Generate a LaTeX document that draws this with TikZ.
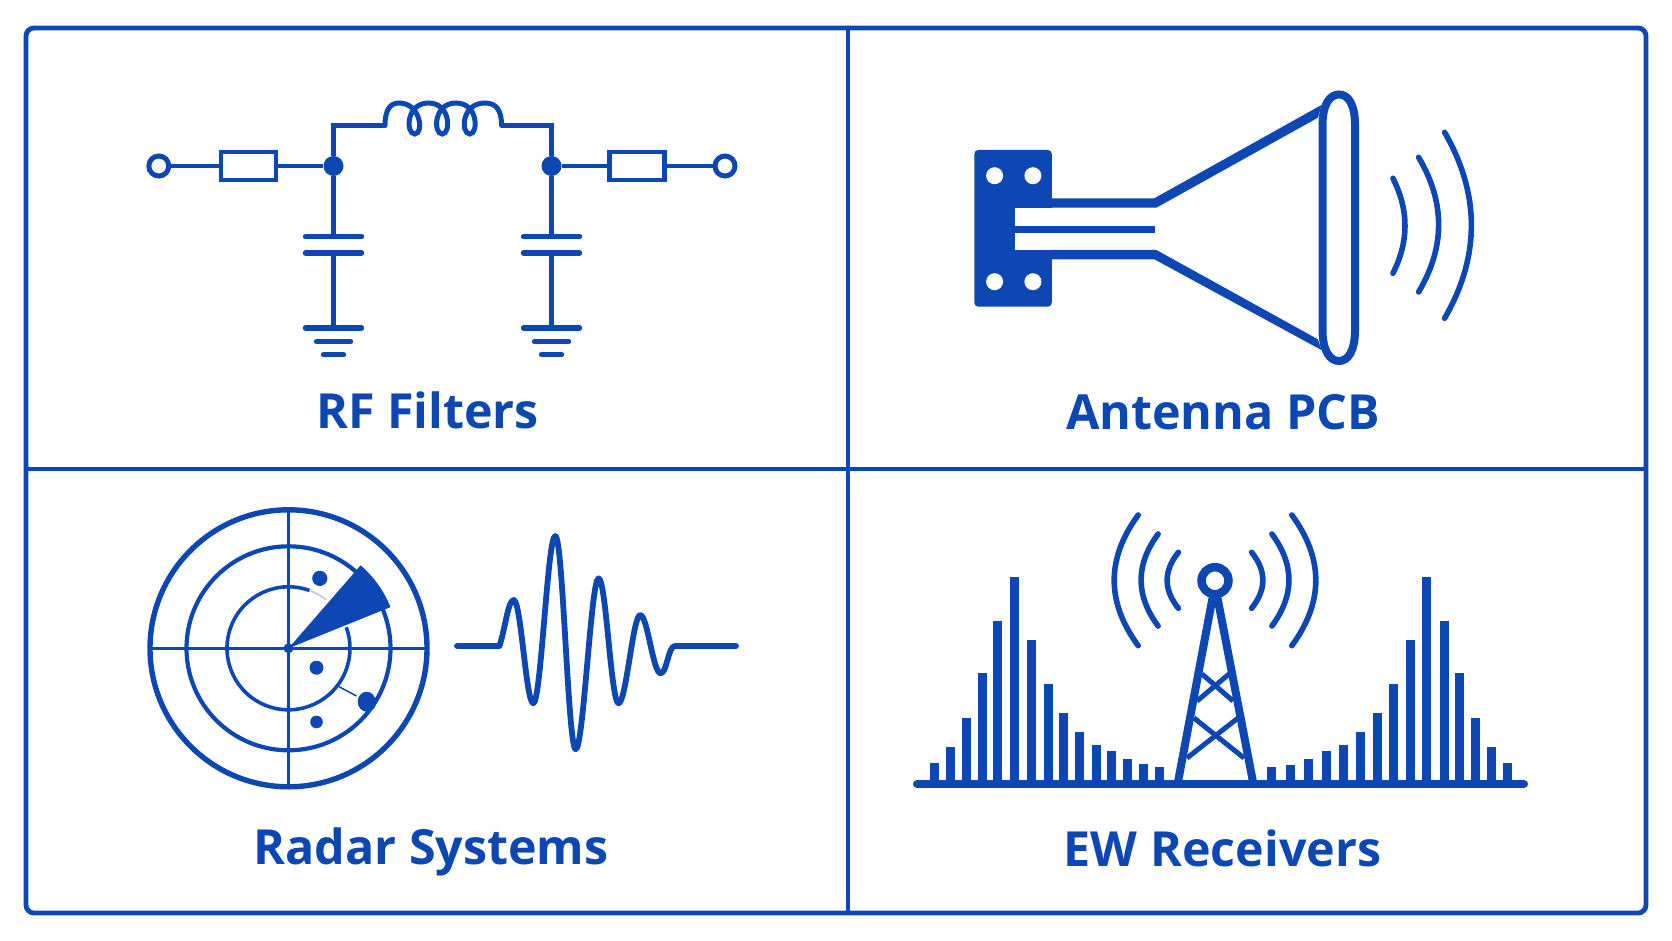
\documentclass[tikz,border=0pt]{standalone}
\usepackage{fontspec}
\setmainfont{Open Sans}
\definecolor{rfblue}{HTML}{0D47B4}
\tikzset{
  title/.style={anchor=base, text=rfblue, font=\fontsize{48.4}{50}\selectfont\bfseries},
  wire/.style={draw=rfblue, line width=4.8pt},
  plate/.style={draw=rfblue, line width=5.4pt, line cap=round},
  arcwave/.style={draw=rfblue, line width=5.6pt, line cap=round},
  terminal/.style={circle, draw=rfblue, line width=5pt, fill=white, minimum size=20pt, inner sep=0pt},
  resistor/.style={rectangle, draw=rfblue, line width=4.8pt, minimum width=55pt, minimum height=28pt, inner sep=0pt},
  junction/.style={circle, fill=rfblue, minimum size=20pt, inner sep=0pt},
}
\begin{document}
\begin{tikzpicture}[x=1pt, y=-1pt]
    \useasboundingbox (0,0) rectangle (1672,941);
    \fill[white] (0,0) rectangle (1672,941);

    % frame
    \draw[draw=rfblue, line width=4.8pt, rounded corners=8pt] (26,28) rectangle (1646,913);
    \draw[draw=rfblue, line width=4.8pt] (848,28) -- (848,913);
    \draw[draw=rfblue, line width=4.8pt] (26,469) -- (1646,469);

    % rf filter
    \begin{scope}
      \node [terminal] (t1) at (158.8,166) {};
      \node [resistor] (r1) at (248.5,166) {};
      \node [junction] (j1) at (333.5,166) {};
      \node [junction] (j2) at (551.5,166) {};
      \node [resistor] (r2) at (637,166) {};
      \node [terminal] (t2) at (725,166) {};
      \coordinate (la) at (385,125.5);
      \coordinate (lb) at (501.6,125.5);
      \draw[wire] (t1) -- (r1);
      \draw[wire] (r1) -- (j1);
      \draw[wire] (j2) -- (r2);
      \draw[wire] (r2) -- (t2);
      \draw[wire] (j1) |- (la);
      \draw[wire] (lb) -| (j2);
      \draw[wire, line cap=round, line width=5pt] (la) .. controls (385,110) and (390,103) .. (399,103)
        .. controls (421,103) and (424,134) .. (414.7,134)
        .. controls (405.7,134) and (405.7,103) .. (428.5,103)
        .. controls (451,103) and (451,134) .. (442.2,134)
        .. controls (433.2,134) and (433.2,103) .. (456,103)
        .. controls (478.5,103) and (478.5,134) .. (469.8,134)
        .. controls (460.8,134) and (460.8,103) .. (485,103)
        .. controls (496,103) and (501.6,110) .. (lb);
      \foreach \x/\n in {333.5/1, 551.5/2} {
        \coordinate (c\n t) at (\x,236.7);
        \coordinate (c\n b) at (\x,253);
        \coordinate (g\n) at (\x,328);
        \draw[wire] (j\n) -- (c\n t);
        \draw[wire] (c\n b) -- (g\n);
        \draw[plate] (\x-28,236.7) -- (\x+28,236.7);
        \draw[plate] (\x-28,253) -- (\x+28,253);
        \draw[plate] (\x-28,328) -- (\x+28,328);
        \draw[plate] (\x-17,341.7) -- (\x+17,341.7);
        \draw[plate] (\x-10,354.7) -- (\x+10,354.7);
      }
      \node [title] (rftitle) at (427.5,428) {RF Filters};
    \end{scope}

    % horn antenna
    \begin{scope}
      \fill[rfblue, rounded corners=4pt] (974.3,150) rectangle (1051.8,306.7);
      \foreach \x in {994.6,1032.9} {
        \foreach \y in {175.7,281.7} {
          \fill[white] (\x,\y) circle (8.5pt);
        }
      }
      \fill[white] (1015.4,207.7) rectangle (1052,250);
      \fill[rfblue] (1015,226) rectangle (1155,232.7);
      \fill[rfblue] (1050,198.3) -- (1154.3,198.3) -- (1321.4,105) -- (1317.9,117.7)
        -- (1156.4,207.7) -- (1050,207.7) -- cycle;
      \fill[rfblue] (1050,250) -- (1156.4,250) -- (1317.9,339.3) -- (1321.4,350)
        -- (1154.3,259.3) -- (1050,259.3) -- cycle;
      \draw[draw=rfblue, line width=8pt] (1322.5,125) .. controls (1322.5,104) and (1330,94.5) .. (1339,94.5)
        .. controls (1348,94.5) and (1355,104) .. (1355,125) -- (1355,330)
        .. controls (1355,351) and (1348,361) .. (1339,361)
        .. controls (1330,361) and (1322.5,351) .. (1322.5,330) -- cycle;
      \foreach \xa/\xc/\ya/\ca/\cb/\yb in {1392.9/1409/178.3/210/241.6/273.3,
          1418.6/1445.3/157.3/202.2/247.1/292, 1444.6/1480.3/132.3/194.3/256.3/318.3} {
        \draw[arcwave] (\xa,\ya) .. controls (\xc,\ca) and (\xc,\cb) .. (\xa,\yb);
      }
      \node [title] (horntitle) at (1223,429.3) {Antenna PCB};
    \end{scope}

    % radar
    \begin{scope}[shift={(288.5,648.3)}, y=1pt]
      \draw[draw=rfblue, line width=5.4pt] (0,0) circle (138.5pt);
      \draw[draw=rfblue, line width=4.2pt] (0,0) circle (102pt);
      \draw[draw=rfblue, line width=3.6pt] (70:61.5) arc[start angle=70, end angle=380, radius=61.5pt];
      \draw[draw=rfblue!30, line width=1.5pt] (70:61.5) arc[start angle=70, end angle=52, radius=61.5pt];
      \draw[draw=rfblue, line width=3pt] (-138,0) -- (138,0);
      \draw[draw=rfblue, line width=3pt] (0,-138) -- (0,138);
      \fill[rfblue] (0,0) -- (22:110) arc[start angle=22, end angle=49, radius=110pt] -- cycle;
      \fill[rfblue] (0,0) circle (5pt);
      \fill[rfblue] (31.3,69.9) circle (7.6pt);
      \fill[rfblue] (28,-19.4) circle (7pt);
      \fill[rfblue] (28,-73.7) circle (6.3pt);
      \fill[rfblue] (78.2,-53.4) ellipse (9pt and 10pt);
      \fill[rfblue] (83,-57) circle (4pt);
      \draw[draw=rfblue, line width=1.5pt] (50.5,-38.4) -- (68,-47.7);
    \end{scope}
    \draw[draw=rfblue, line width=5.8pt, line cap=round, line join=round] (457,646) -- (499.4,646)
      .. controls (505,630) and (508,600) .. (513.7,600)
      .. controls (521,600) and (526,703.3) .. (533.3,703.3)
      .. controls (541,703.3) and (547.5,536) .. (555.3,536)
      .. controls (563,536) and (568,749.3) .. (575.7,749.3)
      .. controls (583.5,749.3) and (591,578.3) .. (598.6,578.3)
      .. controls (606,578.3) and (611,703.3) .. (618.6,703.3)
      .. controls (626,703.3) and (633,615) .. (640.2,615)
      .. controls (647.5,615) and (653,673.3) .. (660.6,673.3)
      .. controls (667,673.3) and (668,646) .. (675,646) -- (736,646);
    \node [title] (radartitle) at (431,864) {Radar Systems};

    % receiver spectrum and tower
    \begin{scope}
      \foreach \x/\y in {934/762.7, 950.2/747.3, 966.3/717.7, 982.1/672.7, 997.8/620.7,
          1014.8/577.3, 1031.8/640, 1048/684, 1063.8/712.7, 1079.9/732, 1096/744.7,
          1111.4/751.3, 1127.2/758.7, 1143/764, 1159.5/766.7,
          1271.9/766.7, 1290.5/764.7, 1308/758.7, 1326.2/751.3, 1343.6/745.3, 1360.2/732,
          1377.2/712.7, 1393.8/684, 1410/640, 1426.5/577.3, 1444/620.7, 1459.7/672.7,
          1475.4/717.7, 1491.2/747.3, 1507/762.7} {
        \draw[draw=rfblue, line width=9pt] (\x,\y) -- (\x,784);
      }
      \draw[draw=rfblue, line width=8pt, line cap=round] (917,784) -- (1524,784);
      \draw[draw=rfblue, line width=8pt] (1178,782) -- (1212.5,598);
      \draw[draw=rfblue, line width=8pt] (1253,782) -- (1217.5,598);
      \draw[draw=rfblue, line width=5pt] (1202,674) -- (1233,701);
      \draw[draw=rfblue, line width=5pt] (1229,674) -- (1197,701);
      \draw[draw=rfblue, line width=5pt] (1194,718) -- (1244,758);
      \draw[draw=rfblue, line width=5pt] (1238,718) -- (1187,758);
      \draw[draw=rfblue, fill=white, line width=8.5pt] (1215,580.7) circle (13.5pt);
      \foreach \xa/\xc/\ya/\ca/\cb/\yb in {1251.6/1266.6/552.3/571/589.6/608.3,
          1271.9/1294.6/534/564.7/595.3/626, 1291.8/1323.8/515/558.6/602.1/645.7,
          1178.4/1163.4/552.3/571/589.6/608.3, 1158.1/1135.4/534/564.7/595.3/626,
          1138.2/1106.2/515/558.6/602.1/645.7} {
        \draw[arcwave] (\xa,\ya) .. controls (\xc,\ca) and (\xc,\cb) .. (\xa,\yb);
      }
      \node [title] (ewtitle) at (1222.5,866) {EW Receivers};
    \end{scope}

  \end{tikzpicture}
\end{document}
